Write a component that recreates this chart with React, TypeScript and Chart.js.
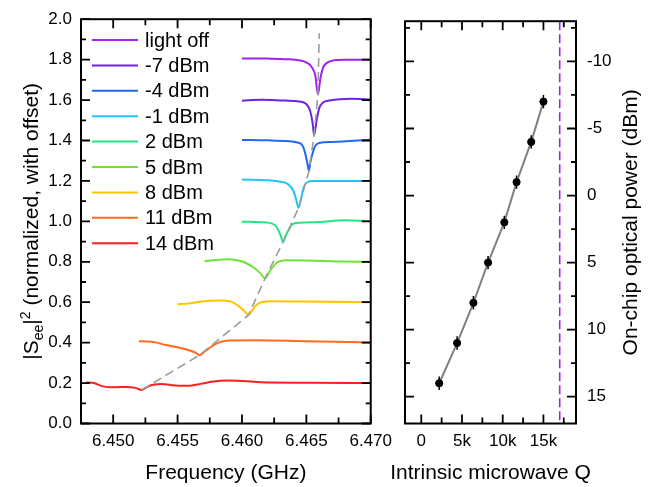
import React, { useEffect, useRef } from "react";
import { Chart, registerables } from "chart.js";
Chart.register(...registerables);

const FONT = "Arial, 'Liberation Sans', Helvetica, sans-serif";

// ---------- Left panel: |See|^2 traces (normalized, offset) ----------
const seriesLabels = ["light off", "-7 dBm", "-4 dBm", "-1 dBm", "2 dBm", "5 dBm", "8 dBm", "11 dBm", "14 dBm"];
const seriesColors = ["#A321EF", "#6B24E3", "#2467F5", "#22C4F7", "#22E683", "#6FE23A", "#FFC300", "#FF6A21", "#FF1E1E"];

const freqLightOff = [6.460, 6.462, 6.4635, 6.4645, 6.465, 6.4654, 6.4657, 6.4659, 6.4661, 6.4663, 6.4666, 6.467, 6.468, 6.470];
const sLightOff = [1.806, 1.805, 1.802, 1.796, 1.786, 1.765, 1.72, 1.627, 1.71, 1.76, 1.784, 1.795, 1.8, 1.8];

const freqM7 = [6.460, 6.4615, 6.463, 6.4643, 6.4649, 6.4653, 6.4655, 6.4656, 6.4658, 6.466, 6.4663, 6.4668, 6.4685, 6.470];
const sM7 = [1.597, 1.601, 1.598, 1.594, 1.585, 1.545, 1.48, 1.426, 1.5, 1.56, 1.588, 1.598, 1.607, 1.603];

const freqM4 = [6.460, 6.462, 6.4635, 6.4643, 6.4647, 6.4649, 6.4651, 6.4652, 6.4653, 6.4655, 6.4657, 6.466, 6.467, 6.470];
const sM4 = [1.403, 1.401, 1.397, 1.39, 1.375, 1.34, 1.28, 1.248, 1.29, 1.34, 1.374, 1.388, 1.393, 1.404];

const freqM1 = [6.460, 6.462, 6.463, 6.4636, 6.464, 6.4642, 6.4644, 6.4646, 6.4648, 6.4651, 6.4655, 6.467, 6.470];
const sM1 = [1.207, 1.203, 1.196, 1.183, 1.15, 1.11, 1.067, 1.115, 1.17, 1.195, 1.2, 1.2, 1.2];

const freqP2 = [6.460, 6.4615, 6.4623, 6.4627, 6.463, 6.4632, 6.4634, 6.4636, 6.4639, 6.4645, 6.466, 6.468, 6.470];
const sP2 = [0.998, 0.996, 0.99, 0.972, 0.93, 0.899, 0.93, 0.955, 0.985, 0.993, 0.997, 1.006, 1.0];

const freqP5 = [6.4571, 6.458, 6.4589, 6.4597, 6.4603, 6.4609, 6.4614, 6.4618, 6.4622, 6.4627, 6.4634, 6.465, 6.4675, 6.470];
const sP5 = [0.803, 0.809, 0.812, 0.806, 0.794, 0.772, 0.745, 0.718, 0.757, 0.795, 0.807, 0.806, 0.802, 0.799];

const freqP8 = [6.455, 6.4558, 6.4566, 6.4575, 6.4583, 6.4591, 6.4598, 6.4602, 6.4605, 6.4608, 6.4611, 6.4615, 6.4625, 6.465, 6.470];
const sP8 = [0.59, 0.593, 0.601, 0.607, 0.609, 0.604, 0.578, 0.555, 0.536, 0.56, 0.585, 0.6, 0.605, 0.603, 0.6];

const freqP11 = [6.452, 6.453, 6.4541, 6.4551, 6.456, 6.4564, 6.4567, 6.457, 6.4574, 6.4579, 6.4584, 6.459, 6.461, 6.465, 6.470];
const sP11 = [0.407, 0.405, 0.388, 0.376, 0.36, 0.35, 0.338, 0.35, 0.37, 0.392, 0.404, 0.41, 0.412, 0.407, 0.401];

const freqP14 = [6.4479, 6.4484, 6.4491, 6.4501, 6.451, 6.4518, 6.4522, 6.4526, 6.453, 6.4538, 6.4545, 6.4551, 6.4558, 6.4568, 6.4576, 6.4589, 6.4601, 6.4615, 6.465, 6.470];
const sP14 = [0.203, 0.202, 0.185, 0.179, 0.181, 0.175, 0.166, 0.18, 0.19, 0.196, 0.19, 0.187, 0.187, 0.196, 0.206, 0.213, 0.21, 0.204, 0.202, 0.2];

const seriesFreqs = [freqLightOff, freqM7, freqM4, freqM1, freqP2, freqP5, freqP8, freqP11, freqP14];
const seriesValues = [sLightOff, sM7, sM4, sM1, sP2, sP5, sP8, sP11, sP14];

// resonance track (dashed guide)
const dipFreq = [6.4522, 6.4567, 6.4605, 6.4618, 6.4632, 6.4644, 6.4652, 6.4656, 6.4659, 6.466];
const dipS = [0.166, 0.338, 0.536, 0.718, 0.899, 1.067, 1.248, 1.426, 1.627, 1.93];

const freqMin = 6.4475;
const freqMax = 6.47;
const freqTicks = [6.45, 6.455, 6.46, 6.465, 6.47];
const freqMinorTicks = [6.4475, 6.4525, 6.4575, 6.4625, 6.4675];
const sMin = 0;
const sMax = 2.0;
const sTicks = [0, 0.2, 0.4, 0.6, 0.8, 1.0, 1.2, 1.4, 1.6, 1.8, 2.0];
const sMinorTicks = [0.1, 0.3, 0.5, 0.7, 0.9, 1.1, 1.3, 1.5, 1.7, 1.9];

// ---------- Right panel: Q vs optical power ----------
const qValues = [2200, 4400, 6400, 8200, 10200, 11700, 13500, 15000];
const powerValues = [14, 11, 8, 5, 2, -1, -4, -7];
const qErr = [400, 380, 380, 380, 380, 380, 380, 380];
const powerErr = [0.5, 0.5, 0.5, 0.5, 0.5, 0.5, 0.5, 0.5];
const uncoupledQ = 17000;

const qMin = -2000;
const qMax = 19000;
const qTicks = [0, 5000, 10000, 15000];
const qTickLabels = ["0", "5k", "10k", "15k"];
const qMinorTicks = [2500, 7500, 12500, 17500];
const powerMin = -13;
const powerMax = 17;
const powerTicks = [-10, -5, 0, 5, 10, 15];
const powerMinorTicks = [-12.5, -7.5, -2.5, 2.5, 7.5, 12.5];

// ---------- plugins ----------
function makeFramePlugin(xMajor: number[], xMinor: number[], yMajor: number[], yMinor: number[]) {
  return {
    id: "frame",
    afterDatasetsDraw(chart: any) {
      const { ctx, chartArea: a, scales } = chart;
      const xs = scales.x;
      const ys = scales.y;
      ctx.save();
      ctx.strokeStyle = "#000";
      ctx.lineWidth = 1.8;
      ctx.lineCap = "butt";
      ctx.beginPath();
      const xt = (vals: number[], len: number) => {
        vals.forEach((v) => {
          const p = xs.getPixelForValue(v);
          ctx.moveTo(p, a.bottom);
          ctx.lineTo(p, a.bottom - len);
          ctx.moveTo(p, a.top);
          ctx.lineTo(p, a.top + len);
        });
      };
      const yt = (vals: number[], len: number) => {
        vals.forEach((v) => {
          const p = ys.getPixelForValue(v);
          ctx.moveTo(a.left, p);
          ctx.lineTo(a.left + len, p);
          ctx.moveTo(a.right, p);
          ctx.lineTo(a.right - len, p);
        });
      };
      xt(xMajor, 9);
      xt(xMinor, 6);
      yt(yMajor, 9);
      yt(yMinor, 5);
      ctx.stroke();
      ctx.lineWidth = 2;
      ctx.strokeRect(a.left, a.top, a.right - a.left, a.bottom - a.top);
      ctx.restore();
    },
  };
}

const legendPlugin = {
  id: "insideLegend",
  afterDraw(chart: any) {
    const { ctx } = chart;
    ctx.save();
    ctx.font = `20px ${FONT}`;
    ctx.fillStyle = "#000";
    ctx.textBaseline = "middle";
    ctx.textAlign = "left";
    seriesLabels.forEach((label, i) => {
      const y = 40 + i * 25.4;
      ctx.strokeStyle = seriesColors[i];
      ctx.lineWidth = 2;
      ctx.beginPath();
      ctx.moveTo(92, y);
      ctx.lineTo(138, y);
      ctx.stroke();
      ctx.fillText(label, 145, y + 1);
    });
    ctx.restore();
  },
};

const leftTitlePlugin = {
  id: "leftYTitle",
  afterDraw(chart: any) {
    const { ctx, chartArea: a } = chart;
    const big = 21;
    const small = 14;
    const parts: { t: string; size: number; dy: number }[] = [
      { t: "|S", size: big, dy: 0 },
      { t: "ee", size: small, dy: 5 },
      { t: "|", size: big, dy: 0 },
      { t: "2", size: small, dy: -8 },
      { t: " (normalized, with offset)", size: big, dy: 0 },
    ];
    ctx.save();
    let total = 0;
    parts.forEach((p) => {
      ctx.font = `${p.size}px ${FONT}`;
      total += ctx.measureText(p.t).width;
    });
    ctx.translate(30, (a.top + a.bottom) / 2);
    ctx.rotate(-Math.PI / 2);
    ctx.fillStyle = "#000";
    ctx.textBaseline = "alphabetic";
    ctx.textAlign = "left";
    let x = -total / 2;
    parts.forEach((p) => {
      ctx.font = `${p.size}px ${FONT}`;
      ctx.fillText(p.t, x, 7.5 + p.dy);
      x += ctx.measureText(p.t).width;
    });
    ctx.restore();
  },
};

const rightTitlesPlugin = {
  id: "rightTitles",
  afterDraw(chart: any) {
    const { ctx, chartArea: a } = chart;
    ctx.save();
    ctx.fillStyle = "#000";
    ctx.font = `21px ${FONT}`;
    ctx.textAlign = "center";
    ctx.textBaseline = "middle";
    ctx.fillText("Intrinsic microwave Q", (a.left + a.right) / 2, 473);
    ctx.translate(631 - 390, (a.top + a.bottom) / 2);
    ctx.rotate(-Math.PI / 2);
    ctx.fillText("On-chip optical power (dBm)", 0, 0);
    ctx.restore();
  },
};

const errorBarPlugin = {
  id: "errorBars",
  afterDatasetsDraw(chart: any) {
    const { ctx, scales } = chart;
    const xs = scales.x;
    const ys = scales.y;
    ctx.save();
    ctx.strokeStyle = "#000";
    ctx.lineWidth = 1.5;
    ctx.beginPath();
    qValues.forEach((q, i) => {
      const p = powerValues[i];
      const px = xs.getPixelForValue(q);
      const py = ys.getPixelForValue(p);
      ctx.moveTo(px, ys.getPixelForValue(p - powerErr[i]));
      ctx.lineTo(px, ys.getPixelForValue(p + powerErr[i]));
      ctx.moveTo(xs.getPixelForValue(q - qErr[i]), py);
      ctx.lineTo(xs.getPixelForValue(q + qErr[i]), py);
    });
    ctx.stroke();
    ctx.restore();
  },
};

const tickFont = { family: FONT, size: 17 };
const titleFont = { family: FONT, size: 21 };

function leftConfig(): any {
  const traces = seriesLabels.map((label, i) => ({
    label,
    data: seriesFreqs[i].map((f, j) => ({ x: f, y: seriesValues[i][j] })),
    borderColor: seriesColors[i],
    backgroundColor: seriesColors[i],
    borderWidth: 2,
    pointRadius: 0,
    fill: false,
    cubicInterpolationMode: "monotone",
  }));
  const guide = {
    label: "guide",
    data: dipFreq.map((f, j) => ({ x: f, y: dipS[j] })),
    borderColor: "#9c9c9c",
    borderWidth: 1.6,
    borderDash: [9, 5],
    pointRadius: 0,
    fill: false,
    tension: 0,
  };
  return {
    type: "line",
    data: { datasets: [guide, ...traces] },
    options: {
      responsive: false,
      devicePixelRatio: 1,
      animation: false,
      events: [],
      layout: { padding: { left: 0, right: 23, top: 18, bottom: 0 } },
      plugins: { legend: { display: false }, tooltip: { enabled: false } },
      scales: {
        x: {
          type: "linear",
          min: freqMin,
          max: freqMax,
          afterBuildTicks: (s: any) => {
            s.ticks = freqTicks.map((v) => ({ value: v }));
          },
          afterFit: (s: any) => {
            s.height = 63.5;
          },
          ticks: {
            callback: (v: any) => Number(v).toFixed(3),
            font: tickFont,
            color: "#000",
            padding: 8,
            maxRotation: 0,
            autoSkip: false,
          },
          grid: { display: false, drawTicks: false },
          border: { display: false },
          title: { display: true, text: "Frequency (GHz)", font: titleFont, color: "#000", padding: { top: 0, bottom: 1.5 } },
        },
        y: {
          type: "linear",
          min: sMin,
          max: sMax,
          afterBuildTicks: (s: any) => {
            s.ticks = sTicks.map((v) => ({ value: v }));
          },
          afterFit: (s: any) => {
            s.width = 81;
          },
          ticks: {
            callback: (v: any) => Number(v).toFixed(1),
            font: tickFont,
            color: "#000",
            padding: 9,
            autoSkip: false,
          },
          grid: { display: false, drawTicks: false },
          border: { display: false },
        },
      },
    },
    plugins: [makeFramePlugin(freqTicks, freqMinorTicks, sTicks, sMinorTicks), legendPlugin, leftTitlePlugin],
  };
}

function rightConfig(): any {
  const pts = qValues.map((q, i) => ({ x: q, y: powerValues[i] }));
  return {
    type: "line",
    data: {
      datasets: [
        {
          label: "points",
          data: pts,
          showLine: false,
          pointRadius: 3.6,
          pointBackgroundColor: "#000",
          pointBorderColor: "#000",
          borderColor: "#000",
        },
        {
          label: "fit",
          data: pts,
          borderColor: "#808080",
          borderWidth: 2,
          pointRadius: 0,
          fill: false,
          tension: 0,
        },
        {
          label: "uncoupled",
          data: [
            { x: uncoupledQ, y: powerMin },
            { x: uncoupledQ, y: powerMax },
          ],
          borderColor: "#A020F0",
          borderWidth: 1.6,
          borderDash: [9, 4],
          pointRadius: 0,
          fill: false,
        },
      ],
    },
    options: {
      responsive: false,
      devicePixelRatio: 1,
      animation: false,
      events: [],
      layout: { padding: { left: 15, right: 0, top: 18, bottom: 0 } },
      plugins: { legend: { display: false }, tooltip: { enabled: false } },
      scales: {
        x: {
          type: "linear",
          min: qMin,
          max: qMax,
          afterBuildTicks: (s: any) => {
            s.ticks = qTicks.map((v) => ({ value: v }));
          },
          afterFit: (s: any) => {
            s.height = 63.5;
          },
          ticks: {
            callback: (v: any) => qTickLabels[qTicks.indexOf(Number(v))],
            font: tickFont,
            color: "#000",
            padding: 8,
            maxRotation: 0,
            autoSkip: false,
          },
          grid: { display: false, drawTicks: false },
          border: { display: false },
          title: { display: false },
        },
        y: {
          type: "linear",
          position: "right",
          reverse: true,
          min: powerMin,
          max: powerMax,
          afterBuildTicks: (s: any) => {
            s.ticks = powerTicks.map((v) => ({ value: v }));
          },
          afterFit: (s: any) => {
            s.width = 83;
          },
          ticks: {
            callback: (v: any) => String(v),
            font: tickFont,
            color: "#000",
            padding: 11,
            autoSkip: false,
          },
          grid: { display: false, drawTicks: false },
          border: { display: false },
        },
      },
    },
    plugins: [makeFramePlugin(qTicks, qMinorTicks, powerTicks, powerMinorTicks), errorBarPlugin, rightTitlesPlugin],
  };
}

export default function App() {
  const leftRef = useRef<HTMLCanvasElement>(null);
  const rightRef = useRef<HTMLCanvasElement>(null);
  useEffect(() => {
    const left = new Chart(leftRef.current as HTMLCanvasElement, leftConfig());
    const right = new Chart(rightRef.current as HTMLCanvasElement, rightConfig());
    return () => {
      left.destroy();
      right.destroy();
    };
  }, []);
  return (
    <div style={{ position: "fixed", left: 0, top: 0, width: 659, height: 487, background: "#fff" }}>
      <canvas
        ref={leftRef}
        width={400}
        height={487}
        style={{ position: "absolute", left: 0, top: 0, width: 400, height: 487 }}
      />
      <canvas
        ref={rightRef}
        width={269}
        height={487}
        style={{ position: "absolute", left: 390, top: 0, width: 269, height: 487 }}
      />
    </div>
  );
}
